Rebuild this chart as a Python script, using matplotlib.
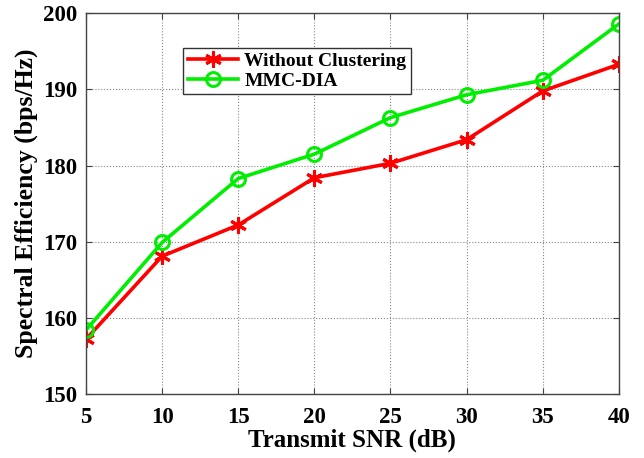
import matplotlib
matplotlib.use('Agg')
import matplotlib.pyplot as plt

# data
snr = [5, 10, 15, 20, 25, 30, 35, 40]
without_clustering = [157.2, 168.1, 172.2, 178.4, 180.3, 183.4, 189.8, 193.3]
mmc_dia = [158.4, 169.9, 178.3, 181.5, 186.3, 189.3, 191.2, 198.6]

plt.rcParams['font.family'] = ['Liberation Serif', 'DejaVu Serif']
plt.rcParams['font.weight'] = 'bold'

fig = plt.figure(figsize=(6.44, 4.58), dpi=100)
ax = fig.add_axes([0.1335, 0.1397, 0.8275, 0.8313])

ax.plot(snr, without_clustering, color='#ff0000', lw=2.6, marker=(6, 2, 0),
        ms=12, mew=2.2, label='Without Clustering')
ax.plot(snr, mmc_dia, color='#00ee00', lw=2.6, marker='o', ms=10,
        mfc='none', mew=2.2, label='MMC-DIA')

ax.set_xlim(5, 40)
ax.set_ylim(150, 200)
ax.set_xticks(snr)
ax.set_yticks([150, 160, 170, 180, 190, 200])
ax.grid(True, ls=':', color='#888888', lw=0.8)
ax.tick_params(direction='in', labelsize=16.5, length=4, color='#444444',
               top=True, right=True)
ax.tick_params(axis='x', pad=9)
ax.tick_params(axis='y', pad=6)
for lab in ax.get_xticklabels() + ax.get_yticklabels():
    lab.set_fontweight('bold')
for s in ax.spines.values():
    s.set_color('#444444')
    s.set_linewidth(1.0)

ax.set_xlabel('Transmit SNR (dB)', fontsize=18, fontweight='bold', labelpad=1)
ax.set_ylabel('Spectral Efficiency (bps/Hz)', fontsize=18.5, fontweight='bold', labelpad=4)

leg = ax.legend(loc='upper left', bbox_to_anchor=(0.182, 0.91), borderaxespad=0,
                fancybox=False, framealpha=1, edgecolor='#333333',
                prop={'size': 14, 'weight': 'bold'}, handlelength=2.6,
                borderpad=0.25, labelspacing=0.1, handletextpad=0.3)
leg.get_frame().set_linewidth(1.0)

fig.savefig('out.png', dpi=100)
